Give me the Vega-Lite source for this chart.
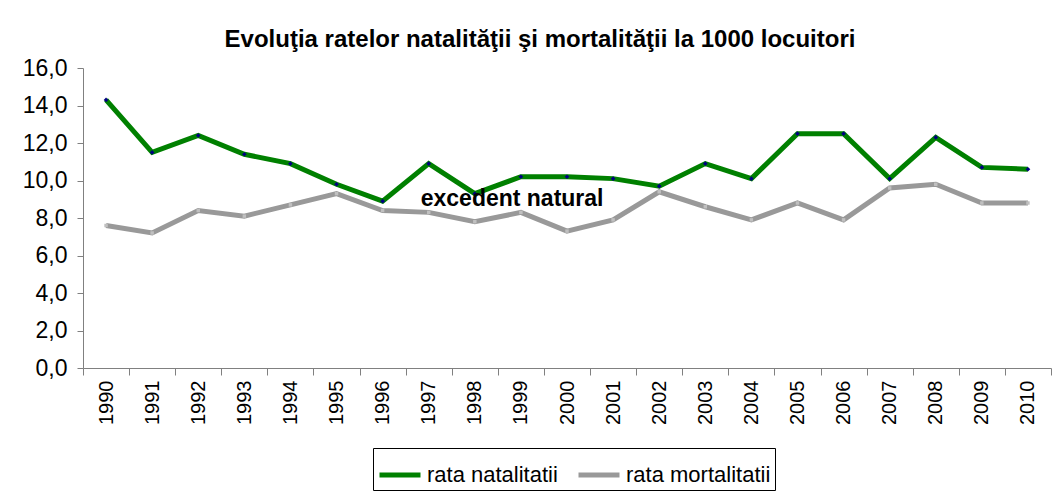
{
  "$schema": "https://vega.github.io/schema/vega-lite/v6.json",
  "width": 968,
  "height": 300,
  "autosize": {"type": "none"},
  "padding": {"left": 83, "top": 68, "right": 6, "bottom": 126},
  "background": "white",
  "title": {
    "text": "Evoluţia ratelor natalităţii şi mortalităţii la 1000 locuitori",
    "font": "Liberation Sans",
    "fontSize": 24,
    "fontWeight": "bold",
    "color": "black",
    "anchor": "middle",
    "dx": -27,
    "dy": 30,
    "baseline": "alphabetic",
    "offset": 16
  },
  "config": {
    "view": {"stroke": null},
    "font": "Liberation Sans",
    "axis": {
      "grid": false,
      "domainColor": "#808080",
      "tickColor": "#808080",
      "labelColor": "black",
      "labelFont": "Liberation Sans",
      "labelOverlap": false,
      "title": null
    }
  },
  "data": {
    "values": [
      {"year": "1990", "series": "rata natalitatii", "value": 14.3},
      {"year": "1991", "series": "rata natalitatii", "value": 11.5},
      {"year": "1992", "series": "rata natalitatii", "value": 12.4},
      {"year": "1993", "series": "rata natalitatii", "value": 11.4},
      {"year": "1994", "series": "rata natalitatii", "value": 10.9},
      {"year": "1995", "series": "rata natalitatii", "value": 9.8},
      {"year": "1996", "series": "rata natalitatii", "value": 8.9},
      {"year": "1997", "series": "rata natalitatii", "value": 10.9},
      {"year": "1998", "series": "rata natalitatii", "value": 9.3},
      {"year": "1999", "series": "rata natalitatii", "value": 10.2},
      {"year": "2000", "series": "rata natalitatii", "value": 10.2},
      {"year": "2001", "series": "rata natalitatii", "value": 10.1},
      {"year": "2002", "series": "rata natalitatii", "value": 9.7},
      {"year": "2003", "series": "rata natalitatii", "value": 10.9},
      {"year": "2004", "series": "rata natalitatii", "value": 10.1},
      {"year": "2005", "series": "rata natalitatii", "value": 12.5},
      {"year": "2006", "series": "rata natalitatii", "value": 12.5},
      {"year": "2007", "series": "rata natalitatii", "value": 10.1},
      {"year": "2008", "series": "rata natalitatii", "value": 12.3},
      {"year": "2009", "series": "rata natalitatii", "value": 10.7},
      {"year": "2010", "series": "rata natalitatii", "value": 10.6},
      {"year": "1990", "series": "rata mortalitatii", "value": 7.6},
      {"year": "1991", "series": "rata mortalitatii", "value": 7.2},
      {"year": "1992", "series": "rata mortalitatii", "value": 8.4},
      {"year": "1993", "series": "rata mortalitatii", "value": 8.1},
      {"year": "1994", "series": "rata mortalitatii", "value": 8.7},
      {"year": "1995", "series": "rata mortalitatii", "value": 9.3},
      {"year": "1996", "series": "rata mortalitatii", "value": 8.4},
      {"year": "1997", "series": "rata mortalitatii", "value": 8.3},
      {"year": "1998", "series": "rata mortalitatii", "value": 7.8},
      {"year": "1999", "series": "rata mortalitatii", "value": 8.3},
      {"year": "2000", "series": "rata mortalitatii", "value": 7.3},
      {"year": "2001", "series": "rata mortalitatii", "value": 7.9},
      {"year": "2002", "series": "rata mortalitatii", "value": 9.4},
      {"year": "2003", "series": "rata mortalitatii", "value": 8.6},
      {"year": "2004", "series": "rata mortalitatii", "value": 7.9},
      {"year": "2005", "series": "rata mortalitatii", "value": 8.8},
      {"year": "2006", "series": "rata mortalitatii", "value": 7.9},
      {"year": "2007", "series": "rata mortalitatii", "value": 9.6},
      {"year": "2008", "series": "rata mortalitatii", "value": 9.8},
      {"year": "2009", "series": "rata mortalitatii", "value": 8.8},
      {"year": "2010", "series": "rata mortalitatii", "value": 8.8}
    ]
  },
  "encoding": {
    "x": {
      "field": "year",
      "type": "ordinal",
      "scale": {"paddingInner": 0, "paddingOuter": 0},
      "axis": {
        "labelAngle": -90,
        "labelFontSize": 20,
        "tickSize": 7,
        "labelPadding": 5,
        "tickBand": "extent"
      }
    },
    "y": {
      "field": "value",
      "type": "quantitative",
      "scale": {"domain": [0, 16], "nice": false},
      "axis": {
        "values": [0, 2, 4, 6, 8, 10, 12, 14, 16],
        "labelExpr": "replace(format(datum.value, '.1f'), '.', ',')",
        "labelFontSize": 23,
        "tickSize": 6,
        "labelPadding": 10
      }
    }
  },
  "layer": [
    {
      "mark": {"type": "line", "strokeWidth": 5},
      "encoding": {
        "color": {
          "field": "series",
          "type": "nominal",
          "scale": {
            "domain": ["rata natalitatii", "rata mortalitatii"],
            "range": ["#008000", "#999999"]
          },
          "legend": {
            "orient": "none",
            "legendX": 290,
            "legendY": 380,
            "direction": "horizontal",
            "title": null,
            "symbolType": "stroke",
            "symbolSize": 1681,
            "symbolStrokeWidth": 5,
            "symbolOffset": 0,
            "labelFontSize": 22,
            "labelFont": "Liberation Sans",
            "labelColor": "black",
            "labelOffset": 4,
            "columnPadding": 10,
            "padding": 4,
            "strokeColor": "black",
            "fillColor": "white",
            "cornerRadius": 0,
            "labelLimit": 300
          }
        }
      }
    },
    {
      "transform": [{"filter": "datum.series === 'rata natalitatii'"}],
      "mark": {"type": "point", "shape": "diamond", "filled": true, "opacity": 1, "size": 22, "color": "#000080"}
    },
    {
      "transform": [{"filter": "datum.series === 'rata mortalitatii'"}],
      "mark": {"type": "point", "shape": "square", "filled": true, "opacity": 1, "size": 12, "color": "#c0c0c0"}
    },
    {
      "data": {"values": [{"year": "1997", "value": 9.0, "label": "excedent natural"}]},
      "mark": {
        "type": "text",
        "align": "left",
        "baseline": "middle",
        "dx": -8,
        "font": "Liberation Sans",
        "fontSize": 23,
        "fontWeight": "bold",
        "color": "black"
      },
      "encoding": {
        "text": {"field": "label"}
      }
    }
  ]
}
